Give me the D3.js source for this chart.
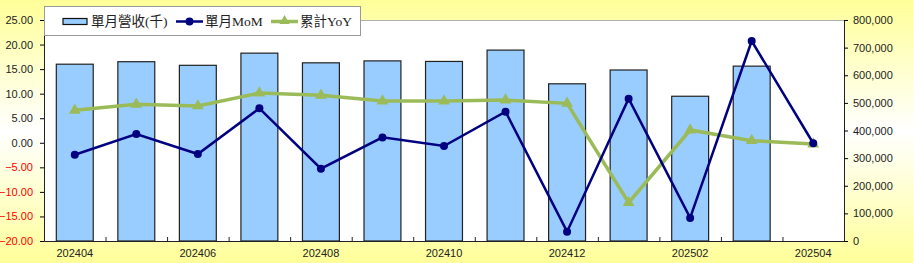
<!DOCTYPE html>
<html>
<head>
<meta charset="utf-8">
<script src="https://cdn.jsdelivr.net/npm/d3@7"></script>
<style>
  body { margin: 0; }
  svg { display: block; }
</style>
</head>
<body>
<svg id="chart"></svg>
<script>
// data
var months = ["202404","202405","202406","202407","202408","202409","202410","202411","202412","202501","202502","202503","202504"];
var revenue = [640000, 649000, 636000, 680000, 645000, 652000, 650000, 691000, 569000, 619000, 524000, 633000, null];
var mom = [-2.43, 1.79, -2.29, 7.01, -5.27, 1.1, -0.66, 6.34, -18.1, 8.98, -15.3, 20.72, -0.1];
var yoy = [6.6, 7.83, 7.5, 10.14, 9.66, 8.5, 8.5, 8.71, 8.03, -12.2, 2.6, 0.43, -0.25];
var leftTicks = [25, 20, 15, 10, 5, 0, -5, -10, -15, -20];
var rightTicks = [0, 100000, 200000, 300000, 400000, 500000, 600000, 700000, 800000];

var w = 913, h = 263;
var pL = 44, pR = 844, pT = 20, pB = 241;

var svg = d3.select("#chart").attr("width", w).attr("height", h);

// background
var defs = svg.append("defs");
var grad = defs.append("linearGradient").attr("id", "bg")
  .attr("x1", 0).attr("y1", 0).attr("x2", 0).attr("y2", 1);
grad.append("stop").attr("offset", "0%").attr("stop-color", "#FFFF99");
grad.append("stop").attr("offset", "50%").attr("stop-color", "#FFFFFF");
grad.append("stop").attr("offset", "100%").attr("stop-color", "#FFFF99");
svg.append("rect").attr("width", w).attr("height", h).attr("fill", "url(#bg)");

// plot area
svg.append("rect")
  .attr("x", pL).attr("y", pT)
  .attr("width", pR - pL).attr("height", pB - pT)
  .attr("fill", "#fff");
svg.append("line")
  .attr("x1", pL).attr("x2", pR).attr("y1", pT + 0.5).attr("y2", pT + 0.5)
  .attr("stroke", "#b0b0b0");

var x = d3.scaleBand().domain(months).range([pL, pR]).padding(0);
var yL = d3.scaleLinear().domain([-20, 25]).range([pB, pT]);
var yR = d3.scaleLinear().domain([0, 800000]).range([pB, pT]);

// bars
svg.append("g").selectAll("rect")
  .data(revenue.map(function(v, i) { return {m: months[i], v: v}; }).filter(function(d) { return d.v != null; }))
  .enter()
  .append("rect")
  .attr("x", function(d) { return x(d.m) + x.bandwidth() * 0.2; })
  .attr("y", function(d) { return yR(d.v); })
  .attr("width", x.bandwidth() * 0.6)
  .attr("height", function(d) { return pB - yR(d.v); })
  .attr("fill", "#99CCFF")
  .attr("stroke", "#222")
  .attr("stroke-width", 1.2);

// axes
var axL = svg.append("g").attr("transform", "translate(" + pL + ",0)")
  .call(d3.axisLeft(yL).tickValues(leftTicks).tickSize(4).tickPadding(7)
    .tickFormat(d3.format(".2f")));
axL.select(".domain").attr("stroke", "#222");
axL.selectAll("text")
  .attr("font-family", "Liberation Sans, Arial, sans-serif")
  .attr("font-size", "11px")
  .attr("fill", function(d) { return d < 0 ? "#FF0000" : "#222"; });

var axR = svg.append("g").attr("transform", "translate(" + pR + ",0)")
  .call(d3.axisRight(yR).tickValues(rightTicks).tickSize(4).tickPadding(5)
    .tickFormat(d3.format(",")));
axR.select(".domain").attr("stroke", "#222");
axR.selectAll("text")
  .attr("font-family", "Liberation Sans, Arial, sans-serif")
  .attr("font-size", "11px")
  .attr("fill", "#222");

var axB = svg.append("g").attr("transform", "translate(0," + pB + ")")
  .call(d3.axisBottom(x).tickValues([]).tickSize(0));
axB.select(".domain").attr("stroke", "#222");
// category boundary ticks (inside)
svg.append("g").selectAll("line")
  .data(months.slice(1))
  .enter()
  .append("line")
  .attr("x1", function(d) { return x(d) + 0.5; })
  .attr("x2", function(d) { return x(d) + 0.5; })
  .attr("y1", pB).attr("y2", pB - 4)
  .attr("stroke", "#222");
svg.append("g").selectAll("text")
  .data(months.filter(function(d, i) { return i % 2 === 0; }))
  .enter()
  .append("text")
  .attr("x", function(d) { return x(d) + x.bandwidth() / 2; })
  .attr("y", 257)
  .attr("text-anchor", "middle")
  .attr("font-family", "Liberation Sans, Arial, sans-serif")
  .attr("font-size", "11px")
  .attr("fill", "#222")
  .text(function(d) { return d; });

// lines
var cx = function(i) { return x(months[i]) + x.bandwidth() / 2; };
var lineYoY = d3.line().x(function(d, i) { return cx(i); }).y(function(d) { return yL(d); });
svg.append("path").datum(yoy).attr("d", lineYoY)
  .attr("fill", "none").attr("stroke", "#9BBB59").attr("stroke-width", 3.5);
svg.append("g").selectAll("path")
  .data(yoy).enter().append("path")
  .attr("d", d3.symbol().type(d3.symbolTriangle).size(60))
  .attr("transform", function(d, i) { return "translate(" + cx(i) + "," + yL(d) + ")"; })
  .attr("fill", "#9BBB59");

var lineMoM = d3.line().x(function(d, i) { return cx(i); }).y(function(d) { return yL(d); });
svg.append("path").datum(mom).attr("d", lineMoM)
  .attr("fill", "none").attr("stroke", "#000080").attr("stroke-width", 2.5);
svg.append("g").selectAll("circle")
  .data(mom).enter().append("circle")
  .attr("cx", function(d, i) { return cx(i); })
  .attr("cy", function(d) { return yL(d); })
  .attr("r", 4)
  .attr("fill", "#000080");

// legend
var lg = svg.append("g");
lg.append("rect").attr("x", 44.5).attr("y", 6.5).attr("width", 316).attr("height", 29)
  .attr("fill", "#fff").attr("stroke", "#999");
lg.append("rect").attr("x", 63).attr("y", 18.5).attr("width", 24).attr("height", 6)
  .attr("fill", "#99CCFF").attr("stroke", "#111").attr("stroke-width", 1.2);
lg.append("line").attr("x1", 176).attr("x2", 203).attr("y1", 21.5).attr("y2", 21.5)
  .attr("stroke", "#000080").attr("stroke-width", 2.5);
lg.append("circle").attr("cx", 189.5).attr("cy", 21.5).attr("r", 4).attr("fill", "#000080");
lg.append("line").attr("x1", 271).attr("x2", 298).attr("y1", 21.5).attr("y2", 21.5)
  .attr("stroke", "#9BBB59").attr("stroke-width", 3.5);
lg.append("path").attr("d", d3.symbol().type(d3.symbolTriangle).size(45))
  .attr("transform", "translate(284.5,21)").attr("fill", "#9BBB59");
var legText = [["單月營收(千)", 91], ["單月MoM", 205], ["累計YoY", 300]];
lg.selectAll("text.lt").data(legText).enter().append("text")
  .attr("class", "lt")
  .attr("x", function(d) { return d[1]; })
  .attr("y", 26)
  .attr("font-family", "Liberation Serif, Noto Sans CJK TC, serif")
  .attr("font-size", "13.5px")
  .attr("fill", "#222")
  .text(function(d) { return d[0]; });
</script>
</body>
</html>
